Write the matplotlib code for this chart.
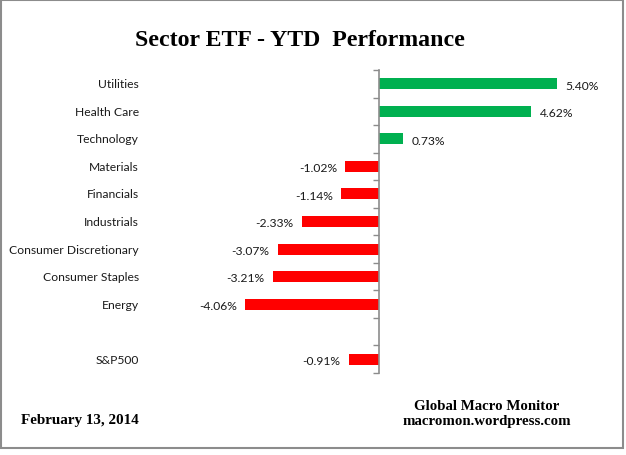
import matplotlib
matplotlib.use("Agg")
import matplotlib.pyplot as plt
import matplotlib.patches as mpatches
import numpy as np

# data (YTD % change)
sectors = ["Utilities", "Health Care", "Technology", "Materials", "Financials",
           "Industrials", "Consumer Discretionary", "Consumer Staples", "Energy",
           "", "S&P500"]
ytd = [5.40, 4.62, 0.73, -1.02, -1.14, -2.33, -3.07, -3.21, -4.06, np.nan, -0.91]

title = "Sector ETF - YTD  Performance"
date_text = "February 13, 2014"
credit = "Global Macro Monitor\nmacromon.wordpress.com"

W, H = 626, 456
fig = plt.figure(figsize=(W / 100, H / 100), dpi=100)
fig.patch.set_facecolor("white")

# gray frame around the chart area
fig.add_artist(mpatches.Rectangle((1 / W, 1 - 449 / H), 622 / W, 448 / H,
                                  transform=fig.transFigure, fill=False,
                                  edgecolor="#8c8c8c", linewidth=1.5))

ax = fig.add_axes([148 / W, 1 - 374 / H, 445.5 / W, 303 / H])
ax.set_xlim(-7, 6.5)
ax.set_ylim(len(sectors) - 0.5, -0.5)

pos = np.arange(len(sectors))
vals = np.array(ytd, dtype=float)
colors = ["#00b050" if v > 0 else "#ff0000" for v in np.nan_to_num(vals)]
ax.barh(pos, np.nan_to_num(vals), height=0.4, color=colors)

label_font = dict(family=["Lato", "DejaVu Sans"], size=8.7, color="#1a1a1a")
for i, v in enumerate(vals):
    if np.isnan(v):
        continue
    if v > 0:
        ax.annotate(f"{v:.2f}%", (v, i), xytext=(6, -1), textcoords="offset points",
                    ha="left", va="center", **label_font)
    else:
        ax.annotate(f"{v:.2f}%", (v, i), xytext=(-6, -1), textcoords="offset points",
                    ha="right", va="center", **label_font)

# category labels, right aligned left of the plot
for i, name in enumerate(sectors):
    ax.annotate(name, (0, i), xycoords=("axes fraction", "data"),
                xytext=(-6.5, 0), textcoords="offset points",
                ha="right", va="center", **label_font)

# axis: only the zero line with tick marks between categories
for s in ["top", "right", "bottom"]:
    ax.spines[s].set_visible(False)
ax.spines["left"].set_position(("data", 0))
ax.spines["left"].set_color("#8c8c8c")
ax.spines["left"].set_linewidth(1.2)
ax.set_yticks(np.arange(-0.5, len(sectors)))
ax.set_yticklabels([])
ax.tick_params(axis="y", direction="out", length=4, color="#8c8c8c", width=1)
ax.set_xticks([])

serif = ["Liberation Serif", "DejaVu Serif"]
fig.text(300 / W, 1 - 41 / H, title, ha="center", va="center",
         family=serif, weight="bold", size=17.2)
fig.text(21 / W, 1 - 421 / H, date_text, ha="left", va="center",
         family=serif, weight="bold", size=10.9)
fig.text(487 / W, 1 - 414 / H, credit, ha="center", va="center",
         family=serif, weight="bold", size=10.7, linespacing=1.1)

fig.savefig("out.png", dpi=100)
